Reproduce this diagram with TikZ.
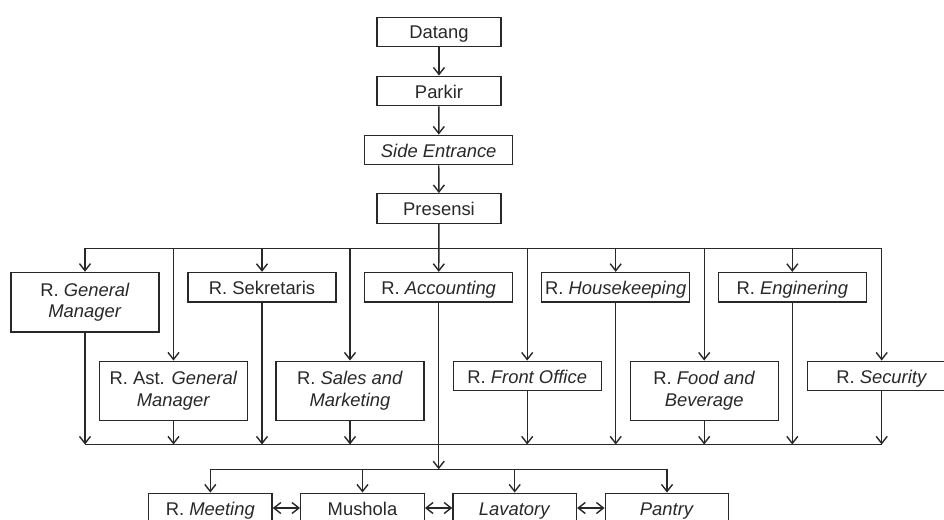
\documentclass[tikz,border=0pt]{standalone}
\usepackage{fontspec}
\setmainfont{Liberation Sans}
\usetikzlibrary{arrows.meta}
\definecolor{ink}{RGB}{40,40,40}
\begin{document}
\begin{tikzpicture}[x=1pt,y=-1pt,
  base/.style={draw=ink, line width=1.4pt, inner sep=0pt, minimum width=148pt,
    align=center, text=ink, font=\fontsize{18.4}{21.6}\selectfont},
  box/.style={base, minimum height=29.5pt, text height=15pt, text depth=1pt},
  sbox/.style={box, minimum width=123.5pt},
  tall/.style={base, minimum height=59.5pt},
  ln/.style={draw=ink, line width=1.4pt},
  tip/.tip={Straight Barb[length=7pt,width=11pt,line width=1.4pt]},
  arr/.style={ln, -tip},
  darr/.style={ln, tip-tip}]
\useasboundingbox (0,0) rectangle (944,519);
\clip (0,0) rectangle (944,519);
% top chain
\node[box, minimum width=124pt] (datang) at (439,32) {Datang};
\node[box, minimum width=124pt] (parkir) at (439,91) {Parkir};
\node[box] (side) at (438.7,150) {\textit{Side Entrance}};
\node[box, minimum width=124pt] (pres) at (439,208.5) {Presensi};
\draw[arr] (datang) -- (parkir);
\draw[arr] (parkir) -- (side);
\draw[arr] (side) -- (pres);
% upper row
\node[tall] (gm) at (85,302.2) {R. \textit{General}\\\textit{Manager}};
\node[box] (sek) at (262,287.3) {R. Sekretaris};
\node[box] (acc) at (438.7,287.3) {R. \textit{Accounting}};
\node[box] (hk) at (615.7,287.3) {R. \textit{Housekeeping}};
\node[box] (eng) at (792.3,287.3) {R. \textit{Enginering}};
% lower row
\node[tall] (agm) at (173.5,391) {R. Ast. \textit{General}\\\textit{Manager}};
\node[tall] (sal) at (350,391) {R. \textit{Sales and}\\\textit{Marketing}};
\node[box] (fo) at (527.2,376) {R. \textit{Front Office}};
\node[tall] (fb) at (704.2,391) {R. \textit{Food and}\\\textit{Beverage}};
\node[box] (sec) at (881.7,376) {R. \textit{Security}};
% distribution bus
\coordinate (busL) at (85,248.3);
\coordinate (busR) at (881.7,248.3);
\draw[ln] (busL) -- (busR);
\draw[arr] (pres) -- (acc);
\foreach \n in {gm,sek,hk,eng,agm,sal,fo,fb,sec}
  \draw[arr] (\n.north |- busL) -- (\n.north);
% collecting bus
\coordinate (colL) at (85,444.5);
\coordinate (colR) at (881.7,444.5);
\draw[ln] (colL) -- (colR);
\foreach \n in {gm,sek,hk,eng,agm,sal,fo,fb,sec}
  \draw[arr] (\n.south) -- (\n.south |- colL);
% lower group
\coordinate (g) at (438.7,469.3);
\draw[arr] (acc.south) -- (g);
\node[sbox] (meet) at (210.3,508) {R. \textit{Meeting}};
\node[sbox] (mus) at (362.5,508) {Mushola};
\node[sbox] (lav) at (514.7,508) {\textit{Lavatory}};
\node[sbox] (pan) at (667,508) {\textit{Pantry}};
\coordinate (gL) at (210.3,469.3);
\coordinate (gR) at (667,469.3);
\draw[ln] (gL) -- (gR);
\foreach \n in {meet,mus,lav,pan}
  \draw[arr] (\n.north |- g) -- (\n.north);
\draw[darr] (meet) -- (mus);
\draw[darr] (mus) -- (lav);
\draw[darr] (lav) -- (pan);
\end{tikzpicture}
\end{document}
